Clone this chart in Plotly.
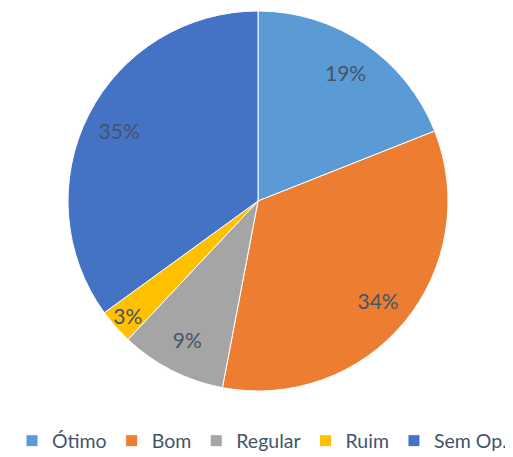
import plotly.graph_objects as go

labels = ["Ótimo", "Bom", "Regular", "Ruim", "Sem Op."]
values = [19, 34, 9, 3, 35]
colors = ["#5B9BD5", "#ED7D31", "#A5A5A5", "#FFC000", "#4472C4"]

W, H = 513, 457
OFF = 8  # page body margin offset
FONT = "Lato, Open Sans, sans-serif"
TXT = "#44546A"

dom = dict(x=[(68 - OFF) / W, (448 - OFF) / W], y=[1 - (391 - OFF) / H, 1 - (11 - OFF) / H])

fig = go.Figure()
fig.add_trace(go.Pie(
    labels=labels, values=values, sort=False, direction="clockwise", rotation=0,
    marker=dict(colors=colors, line=dict(color="white", width=1)),
    textinfo="none", domain=dom, hoverinfo="label+percent",
))
fig.add_trace(go.Pie(
    labels=labels, values=values, sort=False, direction="clockwise", rotation=0,
    hole=0.64, showlegend=False, hoverinfo="skip",
    marker=dict(colors=["rgba(0,0,0,0)"] * len(values), line=dict(width=0)),
    texttemplate="%{percent:.0%}", textposition="inside", insidetextorientation="horizontal",
    textfont=dict(family=FONT, size=21, color=TXT),
    domain=dom,
))
fig.update_layout(
    width=W, height=H, margin=dict(l=0, r=0, t=0, b=0, autoexpand=False),
    paper_bgcolor="white", plot_bgcolor="white",
    legend=dict(orientation="h", x=(262 - OFF) / W, xanchor="center",
                y=1 - (441 - OFF) / H, yanchor="middle",
                font=dict(family=FONT, size=19.5, color=TXT),
                itemwidth=30, traceorder="normal"),
    uniformtext=dict(minsize=21, mode="show"),
)
fig.write_html("out.html")
